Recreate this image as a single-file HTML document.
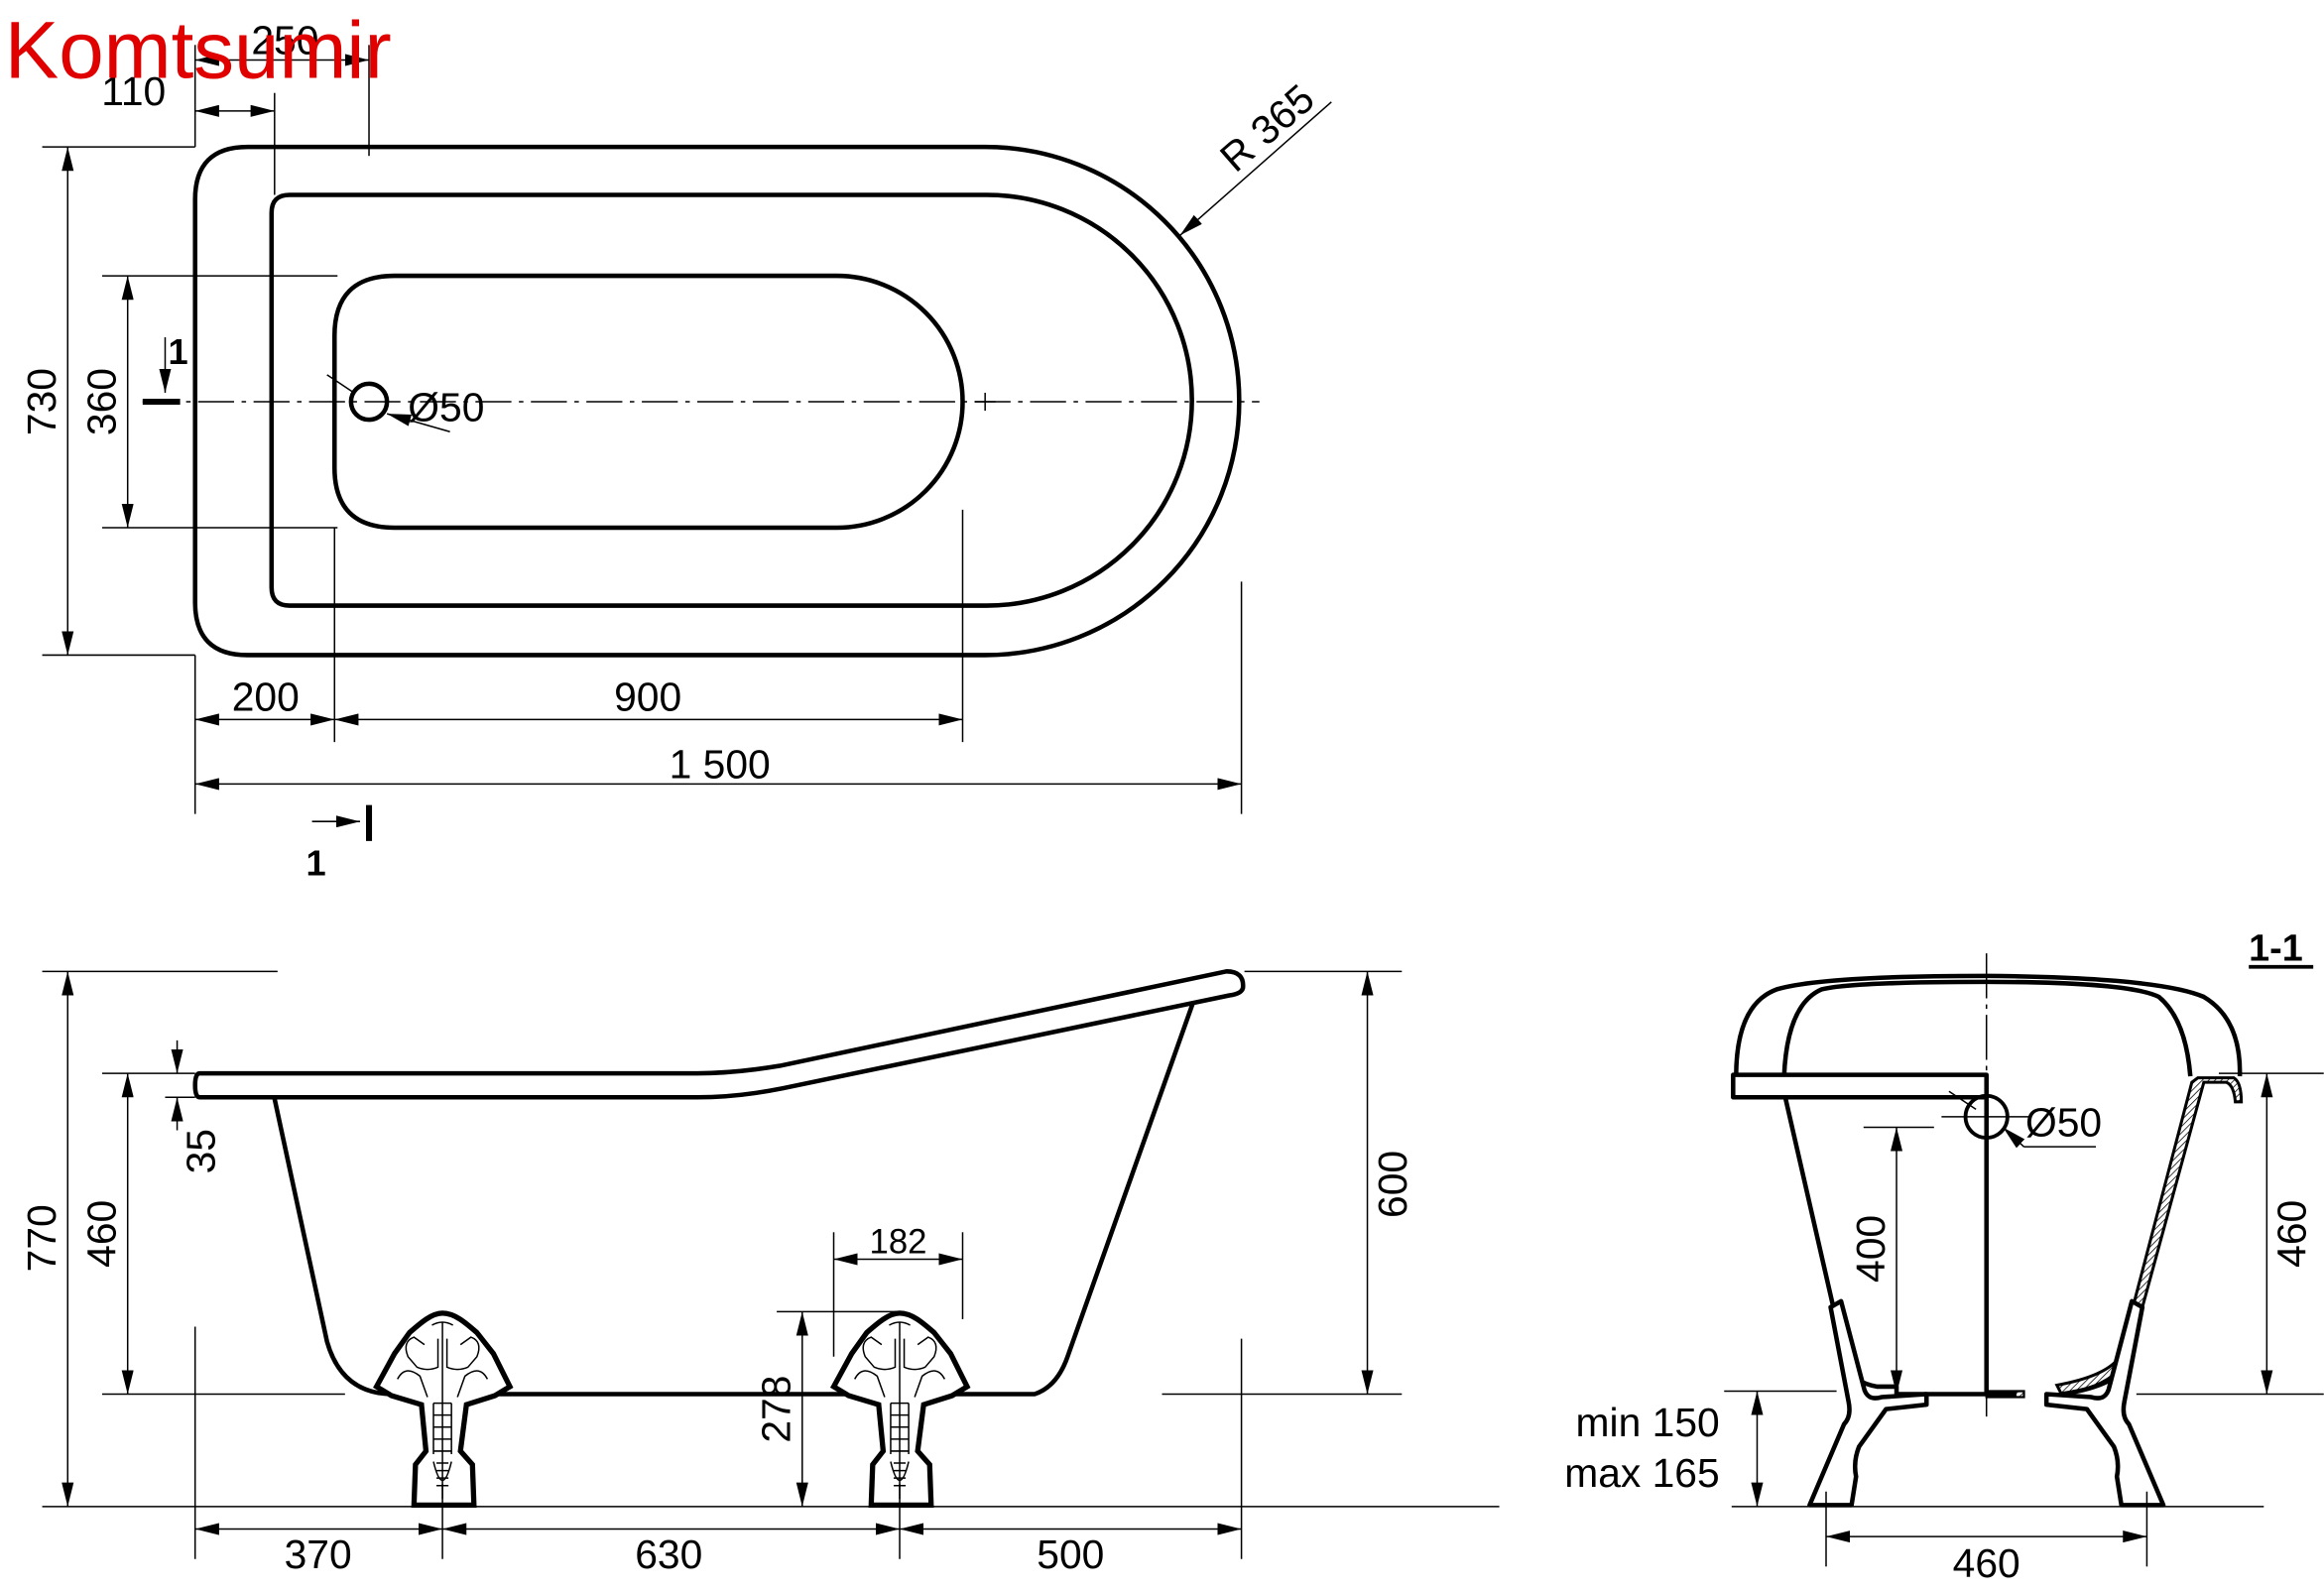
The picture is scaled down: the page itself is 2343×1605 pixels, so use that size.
<!DOCTYPE html>
<html><head><meta charset="utf-8"><style>
html,body{margin:0;padding:0;background:#fff;}
svg{display:block}
text{font-family:"Liberation Sans",sans-serif;fill:#000}
</style></head><body>
<svg width="2343" height="1605" viewBox="0 0 1550 1062" xmlns="http://www.w3.org/2000/svg">
<defs>
<marker id="a" viewBox="0 0 16 8" refX="16" refY="4" markerWidth="16" markerHeight="8" markerUnits="userSpaceOnUse" orient="auto-start-reverse"><path d="M0,0 L16,4 L0,8Z" fill="#000"/></marker>
<pattern id="h" width="3" height="3" patternUnits="userSpaceOnUse" patternTransform="rotate(45)"><line x1="0" y1="0" x2="0" y2="3" stroke="#000" stroke-width="1"/></pattern>
</defs>
<rect width="1550" height="1062" fill="#fff"/>

<!-- TOP VIEW -->
<g fill="none" stroke="#000" stroke-width="3">
<path d="M165,98 H657 A169.5,169.5 0 0 1 657,437 H165 Q130,437 130,402 V133 Q130,98 165,98Z"/>
<path d="M193,130 H658 A137,137 0 0 1 658,404 H193 Q181,404 181,392 V142 Q181,130 193,130Z"/>
<path d="M263,184 H558 A84,84 0 0 1 558,352 H263 Q223,352 223,312 V224 Q223,184 263,184Z"/>
<circle cx="246" cy="268" r="12"/>
</g>
<g stroke="#000" stroke-width="1" fill="none">
<line x1="95" y1="268" x2="840" y2="268" stroke-dasharray="24,5,3,5"/>
<line x1="650" y1="268" x2="664" y2="268"/><line x1="657" y1="262" x2="657" y2="274"/>
<line x1="28" y1="98" x2="130" y2="98"/><line x1="28" y1="437" x2="130" y2="437"/>
<line x1="45" y1="98" x2="45" y2="437" marker-start="url(#a)" marker-end="url(#a)"/>
<line x1="68" y1="184" x2="225" y2="184"/><line x1="68" y1="352" x2="225" y2="352"/>
<line x1="85" y1="184" x2="85" y2="352" marker-start="url(#a)" marker-end="url(#a)"/>
<line x1="130" y1="437" x2="130" y2="543"/><line x1="223" y1="352" x2="223" y2="495"/>
<line x1="642" y1="340" x2="642" y2="495"/><line x1="828" y1="388" x2="828" y2="543"/>
<line x1="130" y1="480" x2="223" y2="480" marker-start="url(#a)" marker-end="url(#a)"/>
<line x1="223" y1="480" x2="642" y2="480" marker-start="url(#a)" marker-end="url(#a)"/>
<line x1="130" y1="523" x2="828" y2="523" marker-start="url(#a)" marker-end="url(#a)"/>
<line x1="130" y1="30" x2="130" y2="98"/><line x1="183" y1="62" x2="183" y2="130"/><line x1="246" y1="30" x2="246" y2="104"/>
<line x1="130" y1="74" x2="183" y2="74" marker-start="url(#a)" marker-end="url(#a)"/>
<line x1="130" y1="40" x2="246" y2="40" marker-start="url(#a)" marker-end="url(#a)"/>
<line x1="888" y1="68" x2="787" y2="157" marker-end="url(#a)"/>
<line x1="218" y1="250" x2="236" y2="262"/>
<line x1="300" y1="288" x2="258" y2="276" marker-end="url(#a)"/>
<line x1="110" y1="225" x2="110" y2="262" marker-end="url(#a)"/>
<line x1="208" y1="548" x2="240" y2="548" marker-end="url(#a)"/>
</g>
<line x1="95" y1="268" x2="120" y2="268" stroke="#000" stroke-width="4"/>
<line x1="246" y1="537" x2="246" y2="561" stroke="#000" stroke-width="4"/>
<g font-size="27">
<text x="45" y="268" transform="rotate(-90 45 268)" text-anchor="middle" dy="-8">730</text>
<text x="85" y="268" transform="rotate(-90 85 268)" text-anchor="middle" dy="-8">360</text>
<text x="177" y="474" text-anchor="middle">200</text>
<text x="432" y="474" text-anchor="middle">900</text>
<text x="480" y="519" text-anchor="middle">1 500</text>
<text x="89" y="70" text-anchor="middle">110</text>
<text x="190" y="36" text-anchor="middle">250</text>
<text x="272" y="281">Ø50</text>
<text transform="translate(824,116) rotate(-41)">R 365</text>
</g>
<text x="112" y="243" font-size="24" font-weight="bold">1</text>
<text x="204" y="584" font-size="24" font-weight="bold">1</text>
<text x="3" y="52" font-size="54" style="fill:#e00000">Komtsumir</text>

<!-- SIDE VIEW -->
<g fill="#fff" stroke="#000" stroke-width="3" stroke-linejoin="round">
<path d="M183,733 L218,895 Q228,930 262,930 H690 Q705,925 712,905 L796,668"/>
<path d="M133,716 H465 Q490,716 520,711 L818,648 Q830,648 829,659 Q828,663 820,664 L522,726 Q492,732 465,732 H133 Q130,732 130,724 Q130,716 133,716Z"/>
</g>
<g id="foot" fill="#fff" stroke="#000">
<path stroke-width="3.5" d="M295,876 C303,876 310,882 318,889 L329,903 L340,925 L330,931 L311,937 L307,968 L315,977 L316,1004 L276,1004 L277,977 L284,968 L281,937 L261,931 L251,925 L263,903 L273,889 C281,882 288,876 295,876Z"/>
<g stroke-width="1" fill="none">
<path d="M295,882 V1000"/>
<path d="M288,884 Q295,880 302,884"/>
<path d="M292,893 V912 Q285,915 278,912 L272,905 Q268,895 276,892 L283,897"/>
<path d="M298,893 V912 Q305,915 312,912 L318,905 Q322,895 314,892 L307,897"/>
<path d="M265,920 Q270,910 280,918 L285,932"/>
<path d="M325,920 Q320,910 310,918 L305,932"/>
<path d="M289,936 H301 M289,944 H301 M289,952 H301 M289,960 H301 M289,968 H301"/>
<path d="M289,936 V970 M301,936 V970"/>
<path d="M291,976 H299 M291,981 H299 M291,986 H299 M291,991 H299"/>
<path d="M289,975 Q295,1000 301,975"/>
</g>
</g>
<use href="#foot" x="305"/>
<g stroke="#000" stroke-width="1" fill="none">
<line x1="28" y1="648" x2="185" y2="648"/><line x1="28" y1="1005" x2="1000" y2="1005"/>
<line x1="45" y1="648" x2="45" y2="1005" marker-start="url(#a)" marker-end="url(#a)"/>
<line x1="68" y1="716" x2="130" y2="716"/><line x1="68" y1="930" x2="230" y2="930"/>
<line x1="85" y1="716" x2="85" y2="930" marker-start="url(#a)" marker-end="url(#a)"/>
<line x1="118" y1="694" x2="118" y2="716" marker-end="url(#a)"/>
<line x1="118" y1="754" x2="118" y2="732" marker-end="url(#a)"/>
<line x1="110" y1="732" x2="130" y2="732"/>
<line x1="830" y1="648" x2="935" y2="648"/><line x1="775" y1="930" x2="935" y2="930"/>
<line x1="912" y1="648" x2="912" y2="930" marker-start="url(#a)" marker-end="url(#a)"/>
<line x1="518" y1="875" x2="598" y2="875"/>
<line x1="535" y1="875" x2="535" y2="1005" marker-start="url(#a)" marker-end="url(#a)"/>
<line x1="556" y1="822" x2="556" y2="905"/><line x1="642" y1="822" x2="642" y2="880"/>
<line x1="556" y1="840" x2="642" y2="840" marker-start="url(#a)" marker-end="url(#a)"/>
<line x1="130" y1="885" x2="130" y2="1040"/><line x1="295" y1="990" x2="295" y2="1040"/>
<line x1="600" y1="990" x2="600" y2="1040"/><line x1="828" y1="893" x2="828" y2="1040"/>
<line x1="130" y1="1020" x2="295" y2="1020" marker-start="url(#a)" marker-end="url(#a)"/>
<line x1="295" y1="1020" x2="600" y2="1020" marker-start="url(#a)" marker-end="url(#a)"/>
<line x1="600" y1="1020" x2="828" y2="1020" marker-start="url(#a)" marker-end="url(#a)"/>
</g>
<g font-size="27">
<text x="45" y="826" transform="rotate(-90 45 826)" text-anchor="middle" dy="-8">770</text>
<text x="85" y="823" transform="rotate(-90 85 823)" text-anchor="middle" dy="-8">460</text>
<text x="143" y="768" transform="rotate(-90 143 768)" text-anchor="middle">35</text>
<text x="912" y="790" transform="rotate(-90 912 790)" text-anchor="middle" dy="26">600</text>
<text x="535" y="940" transform="rotate(-90 535 940)" text-anchor="middle" dy="-8">278</text>
<text x="599" y="836" text-anchor="middle" font-size="23">182</text>
<text x="212" y="1046" text-anchor="middle">370</text>
<text x="446" y="1046" text-anchor="middle">630</text>
<text x="714" y="1046" text-anchor="middle">500</text>
</g>

<!-- SECTION 1-1 -->
<text x="1500" y="641" font-size="25" font-weight="bold">1-1</text>
<line x1="1500" y1="645" x2="1543" y2="645" stroke="#000" stroke-width="2.5"/>
<g fill="none" stroke="#000" stroke-width="3" stroke-linejoin="round">
<path d="M1158,718 Q1158,670 1185,660 Q1215,651 1325,651 Q1440,652 1470,665 Q1495,680 1494,718"/>
<path d="M1190,718 Q1192,670 1215,660 Q1235,655 1325,655"/>
<path d="M1325,655 Q1420,655 1440,665 Q1458,680 1461,718"/>
<path fill="#fff" d="M1156,717 H1325 V732 H1156Z"/>
<path d="M1325,732 V930"/>
<path d="M1191,733 L1232,912 Q1236,922 1252,925 H1265 V930 H1325"/>
<path d="M1325,930 H1345 M1375,930 Q1410,925 1420,910"/>
</g>
<path d="M1466,719 H1490 Q1495,722 1495,735 H1491 Q1490,724 1485,722 H1470 L1420,905 Q1410,925 1375,930 L1372,924 Q1405,918 1414,905 L1462,722Z" fill="url(#h)" stroke="#000" stroke-width="2"/>
<path d="M1325,928 H1350 V932 H1325Z" fill="url(#h)" stroke="#000" stroke-width="1.5"/>
<g fill="#fff" stroke="#000" stroke-width="3" stroke-linejoin="round">
<path d="M1221,872 L1233,935 Q1235,945 1230,950 L1207,1004 H1235 L1238,985 Q1236,975 1240,965 L1258,940 L1285,937 V930 L1255,932 Q1245,935 1243,925 L1228,868Z"/>
<path d="M1429,872 L1417,935 Q1415,945 1420,950 L1443,1004 H1415 L1412,985 Q1414,975 1410,965 L1392,940 L1365,937 V930 L1395,932 Q1405,935 1407,925 L1422,868Z"/>
</g>
<g stroke="#000" stroke-width="1" fill="none">
<line x1="1325" y1="636" x2="1325" y2="945" stroke-dasharray="30,4,3,4"/>
<circle cx="1325" cy="745" r="14" stroke-width="2.5"/>
<line x1="1295" y1="745" x2="1355" y2="745"/>
<line x1="1300" y1="728" x2="1318" y2="740"/>
<line x1="1350" y1="765" x2="1398" y2="765"/>
<line x1="1350" y1="765" x2="1336" y2="752" marker-end="url(#a)"/>
<line x1="1243" y1="752" x2="1290" y2="752"/>
<line x1="1265" y1="752" x2="1265" y2="930" marker-start="url(#a)" marker-end="url(#a)"/>
<line x1="1480" y1="716" x2="1550" y2="716"/><line x1="1425" y1="930" x2="1550" y2="930"/>
<line x1="1512" y1="716" x2="1512" y2="930" marker-start="url(#a)" marker-end="url(#a)"/>
<line x1="1150" y1="928" x2="1225" y2="928"/>
<line x1="1172" y1="928" x2="1172" y2="1005" marker-start="url(#a)" marker-end="url(#a)"/>
<line x1="1155" y1="1005" x2="1510" y2="1005"/>
<line x1="1218" y1="995" x2="1218" y2="1045"/><line x1="1432" y1="995" x2="1432" y2="1045"/>
<line x1="1218" y1="1025" x2="1432" y2="1025" marker-start="url(#a)" marker-end="url(#a)"/>
</g>
<g font-size="27">
<text x="1351" y="758">Ø50</text>
<text x="1265" y="833" transform="rotate(-90 1265 833)" text-anchor="middle" dy="-8">400</text>
<text x="1512" y="823" transform="rotate(-90 1512 823)" text-anchor="middle" dy="26">460</text>
<text x="1147" y="958" text-anchor="end">min 150</text>
<text x="1147" y="992" text-anchor="end">max 165</text>
<text x="1325" y="1052" text-anchor="middle">460</text>
</g>
</svg>
</body></html>
